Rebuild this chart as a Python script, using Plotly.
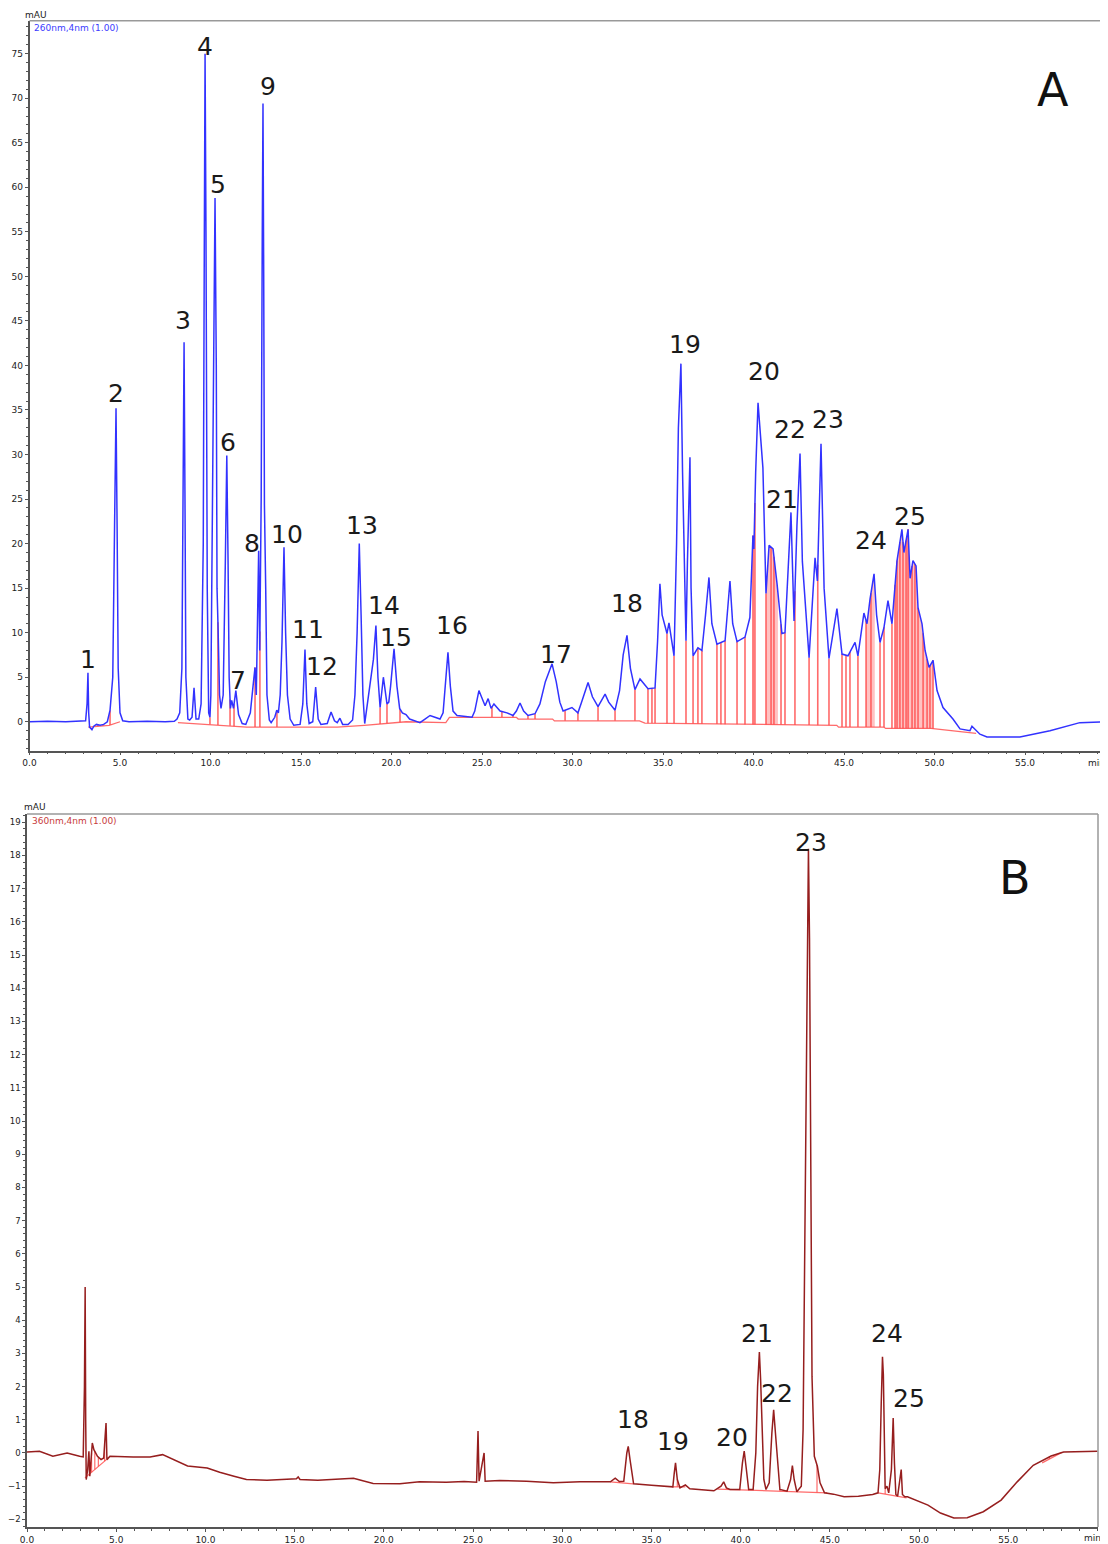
import numpy as np
import plotly.graph_objects as go

# ---------------- Panel A : 260 nm (blue) ----------------
# (retention time [min], absorbance [mAU])
trace_a = [
    (0.0, 0.0), (1.0, 0.05), (2.0, 0.0), (3.0, 0.05), (3.1, 0.1),
    (3.18, 2.0), (3.23, 5.5), (3.27, 1.0), (3.32, -0.6), (3.45, -0.9), (3.55, -0.5),
    (3.7, -0.3), (3.9, -0.4), (4.1, -0.3), (4.3, 0.0), (4.45, 1.3), (4.6, 5.0),
    (4.7, 22.0), (4.78, 35.2), (4.84, 22.0), (4.9, 6.0), (5.0, 1.0), (5.15, 0.1),
    (5.5, 0.0), (6.5, 0.05), (7.5, 0.0), (8.0, 0.05), (8.15, 0.3),
    (8.3, 1.0), (8.42, 6.0), (8.48, 25.0), (8.54, 42.6), (8.59, 25.0), (8.64, 5.0),
    (8.75, 0.3), (8.85, 0.2), (8.98, 0.5), (9.09, 3.8), (9.2, 0.3), (9.35, 0.3),
    (9.48, 2.0), (9.6, 20.0), (9.66, 55.0), (9.70, 75.0), (9.75, 55.0), (9.82, 15.0),
    (9.9, 1.0), (9.97, 0.5), (10.02, 3.0), (10.14, 30.0), (10.25, 58.8), (10.32, 40.0),
    (10.36, 15.0), (10.42, 10.4), (10.5, 3.0), (10.58, 1.5), (10.7, 3.0), (10.82, 18.0),
    (10.9, 29.9), (10.97, 18.0), (11.03, 5.0), (11.1, 1.5), (11.17, 2.4), (11.27, 1.5),
    (11.4, 3.5), (11.55, 0.8), (11.75, -0.2), (11.95, -0.3), (12.2, 1.0), (12.35, 4.0),
    (12.46, 6.1), (12.53, 3.0), (12.6, 12.0), (12.66, 19.2), (12.72, 8.0), (12.8, 25.0),
    (12.86, 55.0), (12.9, 69.4), (12.94, 50.0), (12.98, 24.3), (13.05, 15.0), (13.12, 3.0),
    (13.25, 0.2), (13.35, -0.1), (13.55, 0.5), (13.66, 1.3), (13.75, 1.0), (13.85, 3.0),
    (13.95, 9.0), (14.06, 19.6), (14.15, 10.0), (14.25, 3.0), (14.4, 0.3), (14.6, -0.4),
    (14.95, -0.3), (15.1, 2.0), (15.22, 8.1), (15.32, 2.0), (15.45, -0.2), (15.65, 0.0),
    (15.81, 3.9), (15.95, 0.3), (16.1, -0.3), (16.45, -0.2), (16.66, 1.1), (16.85, 0.1),
    (17.0, -0.1), (17.15, 0.4), (17.3, -0.3), (17.6, -0.3), (17.85, 0.2), (17.98, 3.0),
    (18.1, 10.0), (18.22, 20.0), (18.32, 12.0), (18.42, 3.0), (18.52, -0.2), (18.7, 2.5),
    (18.85, 4.5), (19.0, 7.0), (19.14, 10.8), (19.25, 5.0), (19.37, 1.6), (19.55, 5.0),
    (19.75, 2.0), (19.85, 2.2), (19.95, 4.0), (20.14, 8.2), (20.3, 4.0), (20.45, 1.5),
    (20.6, 1.0), (20.8, 0.8), (21.0, 0.3), (21.57, -0.1), (21.85, 0.3), (22.13, 0.7),
    (22.4, 0.5), (22.68, 0.3), (22.85, 1.0), (22.98, 4.0), (23.12, 7.8), (23.25, 4.0),
    (23.4, 1.2), (23.62, 0.7), (24.45, 0.5), (24.6, 1.2), (24.83, 3.5), (25.17, 1.8),
    (25.34, 2.6), (25.5, 1.5), (25.66, 2.0), (26.0, 1.2), (26.38, 1.0), (26.71, 0.7),
    (26.9, 1.2), (27.1, 2.1), (27.3, 1.2), (27.54, 0.7), (27.93, 0.9), (28.2, 2.0),
    (28.5, 4.5), (28.87, 6.5), (29.1, 4.5), (29.3, 2.2), (29.48, 1.2), (29.97, 1.6),
    (30.3, 1.0), (30.5, 2.2), (30.86, 4.4), (31.1, 2.8), (31.41, 1.7), (31.8, 3.1),
    (32.0, 2.2), (32.35, 1.3), (32.6, 3.5), (32.8, 7.5), (33.01, 9.7), (33.2, 6.0),
    (33.45, 3.6), (33.73, 4.8), (34.17, 3.7), (34.56, 3.8), (34.7, 9.0), (34.83, 15.5),
    (34.95, 12.0), (35.22, 9.9), (35.33, 11.1), (35.61, 7.4), (35.75, 20.0), (35.85, 33.0),
    (35.99, 40.2), (36.08, 28.0), (36.27, 9.1), (36.35, 18.0), (36.49, 29.7), (36.55, 15.0),
    (36.66, 7.4), (36.93, 8.3), (37.15, 8.0), (37.35, 12.0), (37.54, 16.2), (37.7, 11.0),
    (37.98, 8.7), (38.43, 9.1), (38.55, 12.0), (38.7, 15.8), (38.85, 11.0), (39.09, 9.0),
    (39.53, 9.5), (39.8, 11.7), (39.97, 20.9), (40.02, 19.4), (40.12, 28.0), (40.25, 35.8),
    (40.52, 28.5), (40.69, 14.4), (40.86, 19.8), (41.08, 19.4), (41.3, 15.5), (41.57, 9.9),
    (41.74, 10.0), (41.9, 16.0), (42.07, 23.5), (42.24, 11.3), (42.4, 22.0), (42.57, 30.1),
    (42.7, 18.0), (43.07, 7.2), (43.4, 18.4), (43.53, 15.8), (43.62, 24.0), (43.73, 31.2),
    (43.9, 15.0), (44.17, 7.1), (44.4, 10.0), (44.61, 12.7), (44.89, 7.6), (45.22, 7.4),
    (45.61, 8.9), (45.77, 7.4), (46.1, 12.2), (46.27, 11.0), (46.44, 13.8), (46.66, 16.6),
    (46.8, 12.0), (46.99, 8.9), (47.21, 10.6), (47.43, 13.6), (47.65, 11.0), (47.76, 13.9),
    (47.93, 18.1), (48.2, 21.6), (48.31, 19.0), (48.54, 21.6), (48.65, 16.1), (48.81, 18.1),
    (48.98, 17.5), (49.09, 12.8), (49.31, 11.0), (49.48, 8.0), (49.7, 6.1), (49.92, 6.9),
    (50.14, 3.5), (50.47, 1.6), (51.02, 0.3), (51.41, -0.8), (51.96, -1.0), (52.07, -0.5),
    (52.51, -1.4), (52.9, -1.7), (53.62, -1.7), (54.72, -1.7), (56.38, -1.0), (58.03, -0.1),
    (59.6, 0.0),
]

# integration baseline (None = gap)
baseline_a = [
    (3.25, -0.6), (4.4, -0.4), (5.0, 0.0), (None, None),
    (8.2, -0.1), (10.0, -0.3), (12.0, -0.6), (17.0, -0.6), (18.5, -0.4), (20.8, 0.0),
    (23.0, -0.1), (23.2, 0.5), (26.9, 0.5), (27.0, 0.3), (28.9, 0.3), (29.0, 0.1),
    (33.7, 0.1), (34.0, -0.15), (39.3, -0.3), (44.6, -0.4), (44.7, -0.6), (47.2, -0.6),
    (47.3, -0.75), (49.8, -0.75), (52.3, -1.3),
]

# peak-boundary drop lines (min)
drops_a = [
    3.34, 3.78, 4.06, 4.45, 9.97, 10.41, 11.08, 11.3, 12.46, 12.73, 13.67, 19.37, 19.75,
    20.47, 25.55, 26.1, 26.71, 27.54, 27.93, 29.59, 30.3, 31.41, 32.35, 33.45, 34.17,
    34.39, 34.56, 35.22, 35.61, 36.27, 36.66, 36.93, 37.15, 37.98, 38.2, 38.43, 39.09,
    39.53, 39.97, 40.08, 40.69, 40.97, 41.13, 41.52, 41.74, 42.29, 43.07, 43.55, 44.17,
    44.89, 45.11, 45.33, 45.77, 46.22, 46.49, 46.99, 47.21, 47.65, 47.82, 47.93, 48.09,
    48.26, 48.43, 48.54, 48.76, 48.92, 49.09, 49.37, 49.59, 49.75, 49.92,
]
# time windows whose integrated area shows as a pink fill
shaded_a = [(39.97, 40.05), (40.69, 41.35), (46.2, 46.7), (47.8, 49.92)]

peak_labels_a = [str(i) for i in range(1, 26)]
label_pos_a = [
    (3.21, 7.0), (4.76, 36.8), (8.46, 45.0), (9.68, 75.8), (10.4, 60.3), (10.95, 31.3),
    (11.5, 4.6), (12.28, 20.0), (13.16, 71.3), (14.2, 21.0), (15.38, 10.4), (16.15, 6.2),
    (18.36, 22.0), (19.58, 13.0), (20.24, 9.5), (23.34, 10.8), (29.1, 7.6), (33.0, 13.3),
    (36.2, 42.4), (40.6, 39.3), (41.6, 25.0), (42.04, 32.8), (44.14, 33.9), (46.5, 20.3),
    (48.62, 23.0),
]

# ---------------- Panel B : 360 nm (dark red) ----------------
trace_b = [
    (0.0, 0.03), (0.7, 0.05), (1.45, -0.1), (2.25, 0.0), (2.95, -0.1), (3.15, -0.12),
    (3.22, 2.0), (3.26, 5.0), (3.29, 1.0), (3.32, -0.8), (3.4, -0.5), (3.47, 0.05),
    (3.52, -0.7), (3.58, -0.3), (3.66, 0.3), (3.75, 0.1), (3.95, -0.1), (4.15, -0.2),
    (4.3, -0.15), (4.38, 0.5), (4.43, 0.9), (4.48, -0.2), (4.65, -0.1), (5.95, -0.12),
    (6.9, -0.12), (7.6, -0.05), (8.2, -0.2), (9.0, -0.39), (10.1, -0.45), (10.8, -0.58),
    (11.6, -0.7), (12.3, -0.8), (13.45, -0.82), (15.1, -0.78), (15.2, -0.72), (15.3, -0.8),
    (16.3, -0.82), (18.3, -0.76), (19.4, -0.92), (20.9, -0.93), (22.0, -0.87), (23.5, -0.88),
    (24.5, -0.86), (25.2, -0.88), (25.28, 0.66), (25.34, -0.85), (25.62, 0.0), (25.68, -0.85),
    (26.5, -0.83), (28.0, -0.85), (29.5, -0.9), (30.5, -0.88), (31.0, -0.87), (32.7, -0.87),
    (32.97, -0.76), (33.2, -0.86), (33.45, -0.85), (33.62, 0.0), (33.7, 0.2), (33.8, -0.2),
    (33.95, -0.85), (34.0, -0.93), (35.0, -0.97), (36.0, -1.0), (36.2, -1.02), (36.28, -0.6),
    (36.35, -0.3), (36.45, -0.8), (36.6, -1.05), (36.9, -0.96), (37.15, -1.08), (38.5, -1.14),
    (38.9, -1.0), (39.05, -0.87), (39.2, -1.05), (39.4, -1.1), (39.95, -1.1), (40.1, -0.3),
    (40.2, 0.06), (40.3, -0.4), (40.45, -1.1), (40.7, -1.1), (40.85, 0.0), (40.95, 2.0),
    (41.05, 3.04), (41.12, 2.2), (41.2, 0.8), (41.3, -0.8), (41.42, -1.1), (41.6, -0.9),
    (41.75, 0.6), (41.85, 1.3), (41.95, 0.6), (42.05, -0.2), (42.2, -1.1), (42.6, -1.15),
    (42.8, -0.8), (42.9, -0.38), (43.0, -0.8), (43.15, -1.17), (43.4, -1.0), (43.5, 0.7),
    (43.62, 8.0), (43.75, 17.4), (43.8, 18.2), (43.86, 15.5), (43.93, 8.8), (44.0, 2.3),
    (44.13, -0.1), (44.3, -0.4), (44.45, -0.9), (44.7, -1.2), (45.2, -1.24), (45.8, -1.32),
    (46.6, -1.3), (47.4, -1.25), (47.7, -1.2), (47.8, -0.5), (47.88, 1.5), (47.95, 2.9),
    (48.0, 2.35), (48.05, -0.5), (48.1, -1.08), (48.2, -1.0), (48.3, -1.2), (48.45, -0.5),
    (48.55, 1.05), (48.62, -0.3), (48.7, -1.25), (48.8, -1.3), (48.95, -0.8), (49.0, -0.5),
    (49.07, -1.25), (49.2, -1.32), (49.35, -1.32), (50.5, -1.57), (51.2, -1.81),
    (51.95, -1.96), (52.7, -1.95), (53.6, -1.77), (54.6, -1.42), (55.5, -0.87),
    (56.4, -0.37), (57.4, -0.09), (58.1, 0.03), (60.0, 0.05),
]

baseline_b = [
    (3.25, -0.75), (4.45, -0.2), (None, None),
    (32.7, -0.87), (33.97, -0.93), (None, None),
    (36.15, -1.02), (36.9, -1.02), (None, None),
    (38.7, -1.09), (44.85, -1.2), (None, None),
    (47.7, -1.2), (49.3, -1.35), (None, None),
    (56.9, -0.3), (58.0, 0.02),
]

drops_b = [3.35, 3.5, 3.62, 3.8, 4.0, 4.35, 33.2, 36.45, 40.45, 42.2, 44.28, 48.1, 57.3]

peak_labels_b = [str(i) for i in range(18, 26)]
label_pos_b = [
    (33.99, 1.0), (36.23, 0.36), (39.54, 0.48), (40.9, 3.6), (42.06, 1.8),
    (43.97, 18.4), (48.23, 3.6), (49.41, 1.63),
]

x_ticks = [0, 5, 10, 15, 20, 25, 30, 35, 40, 45, 50, 55]
y_ticks_a = list(range(0, 80, 5))
y_ticks_b = list(range(-2, 20))

# ---------------- build ----------------
W, H = 1108, 1544
OFF = 8  # the page body adds an 8 px margin


def px(x):
    return (x - OFF) / W


def py(y):
    return 1 - (y - OFF) / H


def unzip(pairs):
    return [p[0] for p in pairs], [p[1] for p in pairs]


ta, va = unzip(trace_a)
tb, vb = unzip(trace_b)
bta, bva = unzip(baseline_a)
btb, bvb = unzip(baseline_b)


def clean(bt, bv):
    return [x for x in bt if x is not None], [y for y in bv if y is not None]


def drop_lines(drops, t, v, bt, bv):
    bt_n, bv_n = clean(bt, bv)
    xs, ys = [], []
    for d in drops:
        top = float(np.interp(d, t, v))
        bot = float(np.interp(d, bt_n, bv_n))
        xs += [d, d, None]
        ys += [bot, top, None]
    return xs, ys


def fill_region(a, b, t, v, bt, bv):
    bt_n, bv_n = clean(bt, bv)
    inner = [x for x in t if a < x < b]
    xs = [a] + inner + [b]
    top = [float(np.interp(x, t, v)) for x in xs]
    bot = [float(np.interp(x, bt_n, bv_n)) for x in xs]
    return xs + xs[::-1] + [a], top + bot[::-1] + [top[0]]


dxa, dya = drop_lines(drops_a, ta, va, bta, bva)
dxb, dyb = drop_lines(drops_b, tb, vb, btb, bvb)

RED = "rgba(255,80,80,0.85)"
BLUE = "rgb(50,50,255)"
DARKRED = "rgb(150,30,30)"

fig = go.Figure()
for a, b in shaded_a:
    fx, fy = fill_region(a, b, ta, va, bta, bva)
    fig.add_trace(go.Scatter(x=fx, y=fy, mode="lines", line=dict(width=0),
                             fill="toself", fillcolor="rgba(255,120,120,0.45)",
                             xaxis="x", yaxis="y", hoverinfo="skip"))
fig.add_trace(go.Scatter(x=dxa, y=dya, mode="lines", line=dict(color=RED, width=1.6),
                         xaxis="x", yaxis="y", hoverinfo="skip"))
fig.add_trace(go.Scatter(x=bta, y=bva, mode="lines", line=dict(color=RED, width=1.3),
                         xaxis="x", yaxis="y", connectgaps=False))
fig.add_trace(go.Scatter(x=ta, y=va, mode="lines", line=dict(color=BLUE, width=1.5),
                         xaxis="x", yaxis="y"))

fig.add_trace(go.Scatter(x=dxb, y=dyb, mode="lines", line=dict(color=RED, width=1.2),
                         xaxis="x2", yaxis="y2", hoverinfo="skip"))
fig.add_trace(go.Scatter(x=btb, y=bvb, mode="lines", line=dict(color=RED, width=1.3),
                         xaxis="x2", yaxis="y2", connectgaps=False))
fig.add_trace(go.Scatter(x=tb, y=vb, mode="lines", line=dict(color=DARKRED, width=1.5),
                         xaxis="x2", yaxis="y2"))

tickfont = dict(family="DejaVu Sans", size=9, color="#222")
axis_common = dict(showline=True, linecolor="#555", linewidth=1.5, ticks="outside",
                   ticklen=3, tickcolor="#555", tickfont=tickfont, showgrid=False,
                   zeroline=False, automargin=False)


def minor(step):
    return dict(tickmode="linear", tick0=0, dtick=step, ticks="outside", ticklen=2,
                tickcolor="#555")


fig.update_layout(
    width=W, height=H, margin=dict(l=0, r=0, t=0, b=0),
    paper_bgcolor="white", plot_bgcolor="white", showlegend=False,
    xaxis=dict(domain=[px(29.5), 1.0], range=[0, (W + OFF - 29.5) / 18.1], anchor="y",
               tickmode="array", tickvals=x_ticks, ticktext=[f"{v:.1f}" for v in x_ticks],
               minor=minor(1), **axis_common),
    yaxis=dict(domain=[py(750.7), py(20.7)], range=[-3.25, 78.7], anchor="x",
               tickmode="array", tickvals=y_ticks_a, minor=minor(1), **axis_common),
    xaxis2=dict(domain=[px(27), px(1098)], range=[0, 60.03], anchor="y2",
                tickmode="array", tickvals=x_ticks, ticktext=[f"{v:.1f}" for v in x_ticks],
                minor=minor(1), **axis_common),
    yaxis2=dict(domain=[py(1527), py(814)], range=[-2.23, 19.25], anchor="x2",
                tickmode="array", tickvals=y_ticks_b, minor=minor(0.2),
                ticklabelstandoff=0,
                **{**axis_common, "tickfont": dict(family="DejaVu Sans", size=8.5,
                                                   color="#222")}),
)

# frame top / right
fig.add_shape(type="line", xref="x domain", yref="y domain", x0=0, x1=1, y0=1, y1=1,
              line=dict(color="#999", width=1.5))
fig.add_shape(type="line", xref="x2 domain", yref="y2 domain", x0=0, x1=1, y0=1, y1=1,
              line=dict(color="#999", width=1.5))
fig.add_shape(type="line", xref="x2 domain", yref="y2 domain", x0=1, x1=1, y0=0, y1=1,
              line=dict(color="#999", width=1.5))

ann = []
lab_font = dict(family="DejaVu Sans", size=25, color="#1a1a1a")
for txt, (x, y) in zip(peak_labels_a, label_pos_a):
    ann.append(dict(x=x, y=y, xref="x", yref="y", text=txt, showarrow=False, font=lab_font,
                    xanchor="center", yanchor="middle"))
for txt, (x, y) in zip(peak_labels_b, label_pos_b):
    ann.append(dict(x=x, y=y, xref="x2", yref="y2", text=txt, showarrow=False, font=lab_font,
                    xanchor="center", yanchor="middle"))

small = dict(family="DejaVu Sans", size=9, color="#222")
big = dict(family="DejaVu Sans", size=46, color="#111")
ann += [
    dict(x=px(1053), y=py(90), xref="paper", yref="paper", text="A", showarrow=False,
         font=big, xanchor="center", yanchor="middle"),
    dict(x=px(1015), y=py(878), xref="paper", yref="paper", text="B", showarrow=False,
         font=big, xanchor="center", yanchor="middle"),
    dict(x=px(32), y=py(28), xref="paper", yref="paper", text="260nm,4nm (1.00)",
         showarrow=False, font=dict(family="DejaVu Sans", size=9, color="rgb(60,60,255)"),
         xanchor="left", yanchor="middle"),
    dict(x=px(30), y=py(821), xref="paper", yref="paper", text="360nm,4nm (1.00)",
         showarrow=False, font=dict(family="DejaVu Sans", size=9, color="rgb(200,60,60)"),
         xanchor="left", yanchor="middle"),
    dict(x=px(23), y=py(15), xref="paper", yref="paper", text="mAU", showarrow=False,
         font=small, xanchor="left", yanchor="middle"),
    dict(x=px(22), y=py(807), xref="paper", yref="paper", text="mAU", showarrow=False,
         font=small, xanchor="left", yanchor="middle"),
    dict(x=px(1086), y=py(763), xref="paper", yref="paper", text="min", showarrow=False,
         font=small, xanchor="left", yanchor="middle"),
    dict(x=px(1082), y=py(1538), xref="paper", yref="paper", text="min", showarrow=False,
         font=small, xanchor="left", yanchor="middle"),
]
fig.update_layout(annotations=ann)

fig.write_html("out.html")
